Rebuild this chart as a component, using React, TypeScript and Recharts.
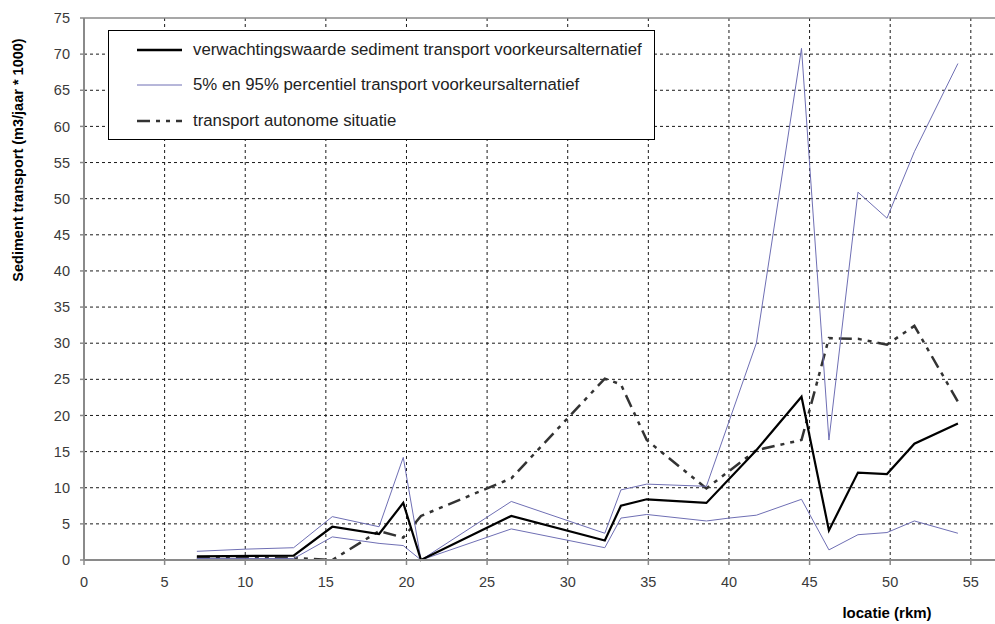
import React from "react";
import {
  LineChart,
  Line,
  XAxis,
  YAxis,
  CartesianGrid,
  Legend,
  ReferenceLine,
} from "recharts";

// ---------------------------------------------------------------------------
// Data
// ---------------------------------------------------------------------------

const xTicks = [0, 5, 10, 15, 20, 25, 30, 35, 40, 45, 50, 55];
const yTicks = [0, 5, 10, 15, 20, 25, 30, 35, 40, 45, 50, 55, 60, 65, 70, 75];

// verwachtingswaarde sediment transport voorkeursalternatief
const expectedKm = [7, 13, 15.4, 18.3, 19.8, 20.9, 26.5, 32.3, 33.3, 34.9, 38.6, 41.7, 44.5, 46.2, 48.0, 49.8, 51.5, 54.2];
const expectedVal = [0.5, 0.6, 4.6, 3.6, 7.9, 0, 6.1, 2.7, 7.5, 8.4, 7.9, 15.2, 22.6, 4.1, 12.1, 11.9, 16.1, 18.9];

// 95% percentiel
const upperKm = [7, 10, 13, 15.4, 18.3, 19.8, 20.9, 26.5, 32.3, 33.3, 34.9, 38.6, 41.7, 44.5, 46.2, 48.0, 49.8, 51.5, 54.2];
const upperVal = [1.2, 1.5, 1.7, 6.0, 4.6, 14.2, 0, 8.1, 3.7, 9.7, 10.5, 10.2, 30.0, 70.8, 16.6, 50.9, 47.3, 56.5, 68.7];

// 5% percentiel
const lowerKm = [7, 10, 13, 15.4, 18.3, 19.8, 20.9, 26.5, 32.3, 33.3, 34.9, 38.6, 40, 41.7, 44.5, 46.2, 48.0, 49.8, 51.5, 54.2];
const lowerVal = [0.2, 0.2, 0.2, 3.2, 2.3, 2.0, 0, 4.3, 1.7, 5.8, 6.3, 5.4, 5.8, 6.2, 8.4, 1.4, 3.5, 3.8, 5.4, 3.7];

// transport autonome situatie
const autonomKm = [7, 10, 13, 15.4, 18.3, 19.8, 20.9, 26.5, 32.3, 33.3, 34.9, 38.6, 41.7, 44.5, 46.2, 48.0, 49.8, 51.5, 54.2];
const autonomVal = [0.3, 0.3, 0.3, 0, 4.0, 3.1, 6.1, 11.3, 25.1, 24.3, 16.6, 9.9, 15.2, 16.6, 30.7, 30.6, 29.8, 32.4, 21.9];

const toPoints = (km: number[], val: number[]) =>
  km.map((x, i) => ({ km: x, value: val[i] }));

const expectedData = toPoints(expectedKm, expectedVal);
const upperData = toPoints(upperKm, upperVal);
const lowerData = toPoints(lowerKm, lowerVal);
const autonomData = toPoints(autonomKm, autonomVal);

// ---------------------------------------------------------------------------
// Styles
// ---------------------------------------------------------------------------

const FONT = "'Liberation Sans', Arial, sans-serif";
const AXIS_GRAY = "#8a8a8a";
const BLUE = "#6f6fb4";
const DASH_PATTERN = "13 6 4 6 4 6";
const TICK_STYLE = { fontSize: 14.5, fill: "#3a3a3a", fontFamily: FONT };

const LEGEND_ITEMS = [
  { label: "verwachtingswaarde sediment transport voorkeursalternatief", color: "#000", width: 2.5, dash: undefined as string | undefined },
  { label: "5% en 95% percentiel transport voorkeursalternatief", color: BLUE, width: 1, dash: undefined },
  { label: "transport autonome situatie", color: "#333", width: 2.5, dash: DASH_PATTERN },
];

function LegendBox() {
  return (
    <div
      style={{
        width: 547,
        height: 110,
        border: "1.5px solid #000",
        background: "#fff",
        fontFamily: FONT,
        fontSize: 16.8,
        color: "#222",
        boxSizing: "border-box",
        paddingTop: 1,
      }}
    >
      {LEGEND_ITEMS.map((item) => (
        <div key={item.label} style={{ display: "flex", alignItems: "center", height: 35.5 }}>
          <svg width={84} height={10} style={{ flex: "none" }}>
            <line
              x1={28}
              y1={5}
              x2={73}
              y2={5}
              stroke={item.color}
              strokeWidth={item.width}
              strokeDasharray={item.dash}
            />
          </svg>
          <span style={{ whiteSpace: "nowrap" }}>{item.label}</span>
        </div>
      ))}
    </div>
  );
}

export default function App() {
  return (
    <div style={{ position: "absolute", left: 0, top: 0, background: "#fff" }}>
      <LineChart
        width={995}
        height={624}
        margin={{ top: 18, right: 0, bottom: 0, left: 0 }}
      >
        <CartesianGrid
          stroke="#1a1a1a"
          strokeDasharray="3 3"
          horizontalValues={yTicks.filter((t) => t > 0 && t < 75)}
          verticalValues={xTicks.filter((t) => t > 0)}
        />
        <ReferenceLine y={75} stroke={AXIS_GRAY} strokeWidth={1.5} />
        <XAxis
          type="number"
          dataKey="km"
          domain={[0, 56.5]}
          ticks={xTicks}
          allowDataOverflow
          height={64}
          tick={TICK_STYLE}
          tickSize={5}
          tickMargin={12}
          stroke={AXIS_GRAY}
          strokeWidth={2}
          tickLine={{ stroke: AXIS_GRAY, strokeWidth: 1.5 }}
          label={{
            content: () => (
              <text
                x={887}
                y={618}
                textAnchor="middle"
                fontFamily={FONT}
                fontSize={15}
                fontWeight="bold"
                fill="#000"
              >
                locatie (rkm)
              </text>
            ),
          }}
        />
        <YAxis
          type="number"
          domain={[0, 75]}
          ticks={yTicks}
          width={84}
          interval={0}
          tick={TICK_STYLE}
          tickSize={4}
          tickMargin={10}
          stroke={AXIS_GRAY}
          strokeWidth={2}
          tickLine={{ stroke: AXIS_GRAY, strokeWidth: 1.5 }}
          label={{
            content: () => (
              <text
                x={23}
                y={160}
                transform="rotate(-90 23 160)"
                textAnchor="middle"
                fontFamily={FONT}
                fontSize={14.5}
                fontWeight="bold"
                fill="#000"
              >
                Sediment transport (m3/jaar * 1000)
              </text>
            ),
          }}
        />
        <Legend
          layout="horizontal"
          verticalAlign="middle"
          align="center"
          wrapperStyle={{ left: 108, top: 30, width: 547, height: 110 }}
          content={() => <LegendBox />}
        />
        <Line
          data={autonomData}
          dataKey="value"
          stroke="#333"
          strokeWidth={2.5}
          strokeDasharray={DASH_PATTERN}
          dot={false}
          isAnimationActive={false}
        />
        <Line
          data={upperData}
          dataKey="value"
          stroke={BLUE}
          strokeWidth={1}
          dot={false}
          isAnimationActive={false}
        />
        <Line
          data={lowerData}
          dataKey="value"
          stroke={BLUE}
          strokeWidth={1}
          dot={false}
          isAnimationActive={false}
        />
        <Line
          data={expectedData}
          dataKey="value"
          stroke="#000"
          strokeWidth={2.2}
          dot={false}
          isAnimationActive={false}
        />
      </LineChart>
    </div>
  );
}
